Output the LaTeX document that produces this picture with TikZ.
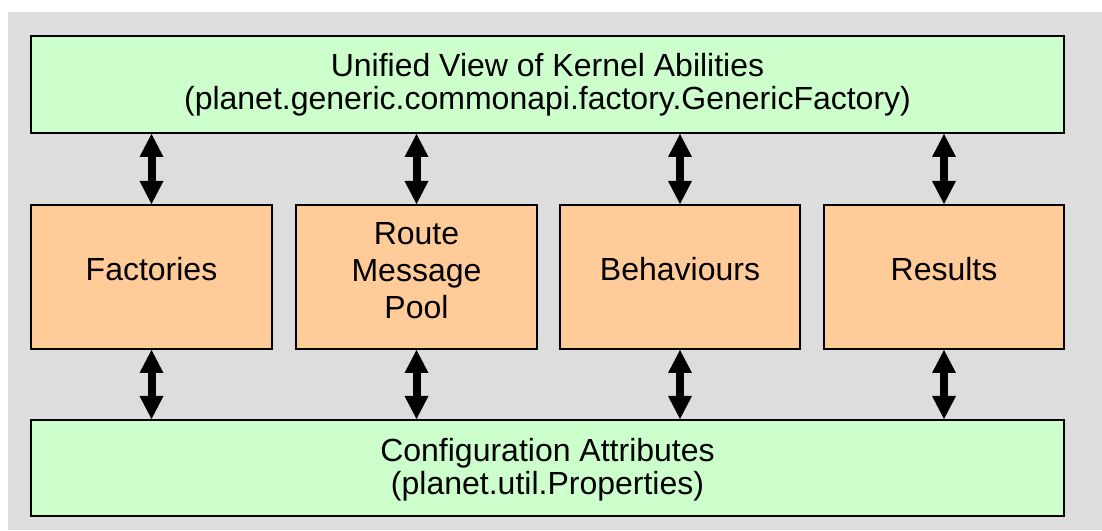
\documentclass[tikz,border=0pt]{standalone}
\usepackage{fontspec}
\setmainfont{Liberation Sans}
\usetikzlibrary{arrows.meta}

\definecolor{panelgray}{HTML}{DDDDDD}
\definecolor{layergreen}{HTML}{CCFFCC}
\definecolor{moduleorange}{HTML}{FFCC99}

\newcommand{\stacked}[2]{{\fontsize{32}{#1}\selectfont\begin{tabular}[t]{@{}c@{}}#2\end{tabular}}}

\begin{document}
\begin{tikzpicture}[x=1pt,y=1pt,
  layerbox/.style={draw=black, line width=2pt, fill=layergreen, minimum width=1033pt, minimum height=97pt, inner sep=0pt},
  modulebox/.style={draw=black, line width=2pt, fill=moduleorange, minimum height=144pt, inner sep=0pt},
  boxtext/.style={anchor=base, inner sep=0pt, font=\fontsize{32}{37}\selectfont},
  biarrow/.style={line width=8pt, {Triangle[length=23pt,width=24pt,line width=0pt]}-{Triangle[length=23pt,width=24pt,line width=0pt]}}
]
  % canvas and grey panel
  \useasboundingbox (0,0) rectangle (1102,530);
  \fill[white] (0,0) rectangle (1102,530);
  \fill[panelgray] (8,0) rectangle (1102,518);

  % layers
  \node[layerbox] (top) at (547.5,445.5) {};
  \node[layerbox, minimum height=96pt] (bottom) at (547.5,62) {};

  % modules
  \node[modulebox, minimum width=241pt] (fac) at (151.5,253) {};
  \node[modulebox, minimum width=241pt] (rmp) at (416.5,253) {};
  \node[modulebox, minimum width=240pt] (beh) at (680,253) {};
  \node[modulebox, minimum width=240pt] (res) at (944,253) {};

  % labels
  \node[boxtext] (toptext) at (547.5,453.5) {\stacked{31.6}{Unified View of Kernel Abilities\\(planet.generic.commonapi.factory.GenericFactory)}};
  \node[boxtext] (factext) at (151.5,249.2) {Factories};
  \node[boxtext] (rmptext) at (416.5,285.2) {\stacked{37}{Route\\Message\\Pool}};
  \node[boxtext] (behtext) at (680,249.2) {Behaviours};
  \node[boxtext] (restext) at (944,249.2) {Results};
  \node[boxtext] (bottext) at (547.5,68.2) {\stacked{33}{Configuration Attributes\\(planet.util.Properties)}};

  % connectors
  \foreach \m in {fac,rmp,beh,res}{
    \draw[biarrow] (\m.north |- top.south) -- (\m.north);
    \draw[biarrow] (\m.south) -- (\m.south |- bottom.north);
  }
\end{tikzpicture}
\end{document}
